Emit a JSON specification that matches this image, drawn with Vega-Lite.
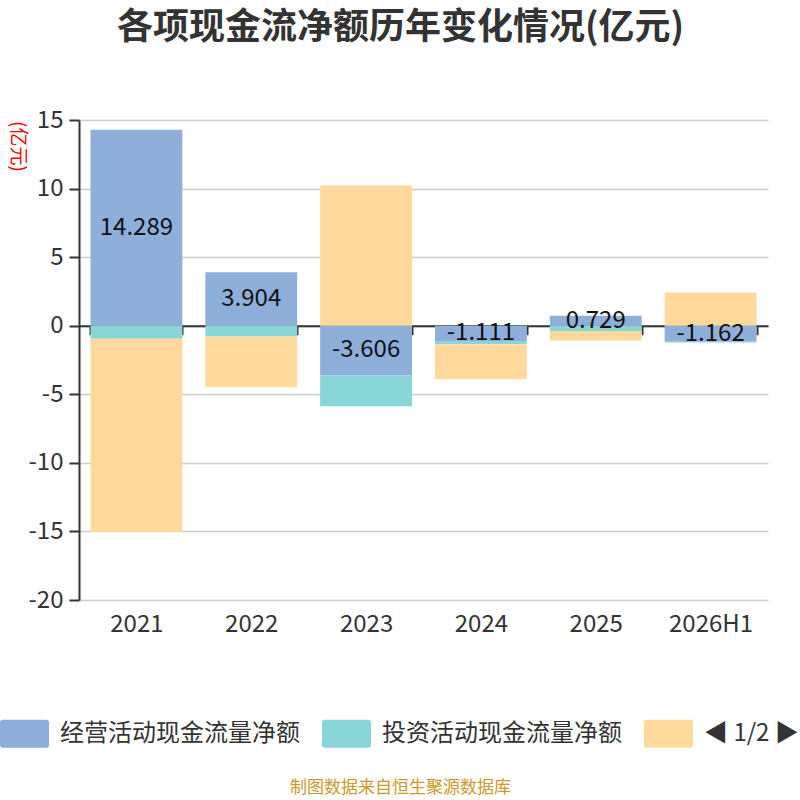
{
  "$schema": "https://vega.github.io/schema/vega-lite/v6.json",
  "autosize": {"type": "none"},
  "padding": {"left": 79, "top": 120, "right": 32, "bottom": 200},
  "width": 689,
  "height": 480,
  "background": "white",
  "config": {
    "font": "Noto Sans CJK SC",
    "view": {"stroke": null}
  },
  "title": {
    "text": "各项现金流净额历年变化情况(亿元)",
    "fontSize": 36,
    "fontWeight": "bold",
    "color": "#333333",
    "anchor": "middle",
    "dx": -23,
    "offset": 61
  },
  "data": {
    "values": [
      {"year": "2021", "type": "经营活动现金流量净额", "value": 14.289},
      {"year": "2021", "type": "投资活动现金流量净额", "value": -0.95},
      {"year": "2021", "type": "筹资活动现金流量净额", "value": -14.1},
      {"year": "2022", "type": "经营活动现金流量净额", "value": 3.904},
      {"year": "2022", "type": "投资活动现金流量净额", "value": -0.78},
      {"year": "2022", "type": "筹资活动现金流量净额", "value": -3.71},
      {"year": "2023", "type": "经营活动现金流量净额", "value": -3.606},
      {"year": "2023", "type": "投资活动现金流量净额", "value": -2.27},
      {"year": "2023", "type": "筹资活动现金流量净额", "value": 10.23},
      {"year": "2024", "type": "经营活动现金流量净额", "value": -1.111},
      {"year": "2024", "type": "投资活动现金流量净额", "value": -0.24},
      {"year": "2024", "type": "筹资活动现金流量净额", "value": -2.56},
      {"year": "2025", "type": "经营活动现金流量净额", "value": 0.729},
      {"year": "2025", "type": "投资活动现金流量净额", "value": -0.39},
      {"year": "2025", "type": "筹资活动现金流量净额", "value": -0.69},
      {"year": "2026H1", "type": "经营活动现金流量净额", "value": -1.162},
      {"year": "2026H1", "type": "投资活动现金流量净额", "value": -0.07},
      {"year": "2026H1", "type": "筹资活动现金流量净额", "value": 2.42}
    ]
  },
  "transform": [
    {"calculate": "indexof(['经营活动现金流量净额', '投资活动现金流量净额', '筹资活动现金流量净额'], datum.type)", "as": "k"},
    {"calculate": "datum.value / 2", "as": "mid"}
  ],
  "encoding": {
    "x": {
      "field": "year",
      "type": "nominal",
      "sort": null,
      "scale": {"paddingInner": 0.2, "paddingOuter": 0.1},
      "axis": {
        "title": "制图数据来自恒生聚源数据库",
        "titleColor": "#c9992b",
        "titleFontSize": 17,
        "titleFontWeight": "normal",
        "titleX": 321,
        "titleY": 462,
        "titleAlign": "center",
        "titleBaseline": "middle",
        "labelAngle": 0,
        "labelFontSize": 24,
        "labelColor": "#333333",
        "labelPadding": 278,
        "offset": -274.29,
        "domainColor": "#333333",
        "domainWidth": 2,
        "tickColor": "#333333",
        "tickWidth": 2,
        "tickSize": 9,
        "tickBand": "extent",
        "grid": false
      }
    }
  },
  "layer": [
    {
      "mark": {"type": "bar"},
      "encoding": {
        "y": {
          "field": "value",
          "type": "quantitative",
          "stack": "zero",
          "scale": {"domain": [-20, 15], "nice": false},
          "axis": {
            "values": [-20, -15, -10, -5, 0, 5, 10, 15],
            "labelExpr": "replace(datum.label, '−', '-')",
            "title": "(亿元)",
            "titleColor": "#ff0000",
            "titleFontSize": 19,
            "titleFontWeight": "normal",
            "titleAngle": 90,
            "titleX": -62,
            "titleY": 26,
            "titleAlign": "center",
            "titleBaseline": "middle",
            "labelFontSize": 24,
            "labelColor": "#333333",
            "labelPadding": 6,
            "tickSize": 10,
            "tickColor": "#333333",
            "tickWidth": 2,
            "domainColor": "#333333",
            "domainWidth": 2,
            "gridColor": "#cccccc",
            "gridWidth": 1.5
          }
        },
        "color": {
          "field": "type",
          "type": "nominal",
          "scale": {
            "domain": ["经营活动现金流量净额", "投资活动现金流量净额", "筹资活动现金流量净额"],
            "range": ["#8fafdb", "#88d6d8", "#fed99b"]
          },
          "legend": {
            "title": null,
            "orient": "none",
            "direction": "horizontal",
            "columns": 3,
            "legendX": -79,
            "legendY": 589,
            "padding": 0,
            "symbolType": "M-0.9,-0.57H0.9A0.1,0.1,0,0,1,1,-0.47V0.47A0.1,0.1,0,0,1,0.9,0.57H-0.9A0.1,0.1,0,0,1,-1,0.47V-0.47A0.1,0.1,0,0,1,-0.9,-0.57Z",
            "symbolSize": 2401,
            "symbolStrokeWidth": 0,
            "symbolOpacity": 1,
            "labelFontSize": 24,
            "labelColor": "#333333",
            "labelLimit": 0,
            "labelOffset": 11,
            "columnPadding": 22,
            "labelExpr": "datum.label == '筹资活动现金流量净额' ? '◀ 1/2 ▶' : datum.label"
          }
        },
        "order": {"field": "k", "type": "quantitative"}
      }
    },
    {
      "transform": [{"filter": "datum.k == 0"}],
      "mark": {"type": "text", "fontSize": 24, "color": "#111111", "baseline": "middle"},
      "encoding": {
        "y": {"field": "mid", "type": "quantitative"},
        "text": {"field": "value", "type": "nominal"}
      }
    }
  ]
}
